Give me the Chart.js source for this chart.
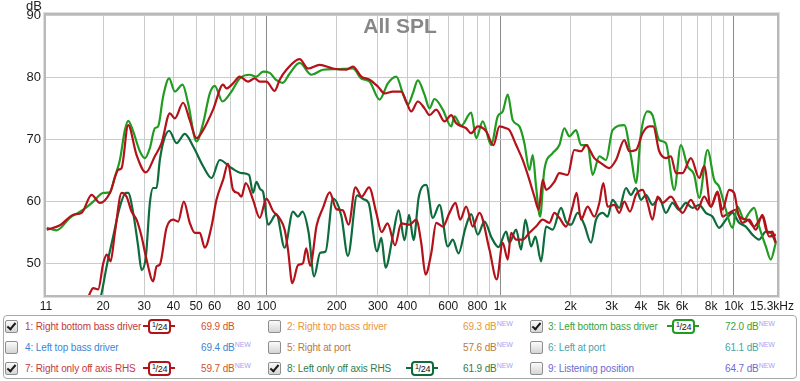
<!DOCTYPE html>
<html><head><meta charset="utf-8">
<script src="https://cdn.jsdelivr.net/npm/chart.js@4/dist/chart.umd.min.js"></script>
<style>
html,body{margin:0;padding:0;background:#fff;}
#wrap{position:relative;width:800px;height:381px;overflow:hidden;font-family:"Liberation Sans",Arial,sans-serif;}
#c{position:absolute;left:0;top:0;}
#legend{position:absolute;left:3px;top:315px;width:792px;height:62px;border:1px solid #a9a9a9;border-radius:4px;box-sizing:content-box;}
.cb{position:absolute;width:11px;height:11px;border:1px solid #8e8e8e;border-radius:2px;background:linear-gradient(#fbfbfb,#d4d4d4);}
.cb.on::after{content:"";position:absolute;left:3px;top:0px;width:3px;height:7px;border:solid #1a1a1a;border-width:0 2px 2px 0;transform:rotate(40deg);}
.lbl{position:absolute;font-size:10px;line-height:12px;white-space:nowrap;letter-spacing:-0.12px;}
.lbl sup{font-size:7px;color:#a3a3f2;vertical-align:4px;line-height:0;letter-spacing:0;}
.bdg{position:absolute;width:32px;height:15px;}
.bdg i{position:absolute;top:6px;width:6px;height:2px;background:var(--c);}
.bdg i.l{left:0;} .bdg i.r{left:26px;}
.bdg b{position:absolute;left:5px;top:0;width:19px;height:11px;border:2px solid var(--c);border-radius:4px;background:#fff;font-weight:normal;font-size:9px;line-height:13px;text-align:center;color:#111;letter-spacing:-0.3px;overflow:hidden;}
.bdg b small{font-size:7px;vertical-align:3px;line-height:0;}
</style>
</head>
<body>
<div id="wrap">
<canvas id="c" width="800" height="313"></canvas>
<div id="legend"></div>

<span class="cb on" style="left:5px;top:320px"></span>
<span class="lbl" style="left:25px;top:321px;color:#c43a3a">1: Right bottom bass driver</span>
<span class="bdg" style="left:143px;top:319px;--c:#b3121a"><i class="l"></i><b><small>1</small>/24</b><i class="r"></i></span>
<span class="lbl" style="left:201px;top:321px;color:#d5512f">69.9 dB</span>
<span class="cb" style="left:268px;top:320px"></span>
<span class="lbl" style="left:287px;top:321px;color:#e8963c">2: Right top bass driver</span>
<span class="lbl" style="left:463px;top:321px;color:#e8963c">69.3 dB<sup>NEW</sup></span>
<span class="cb on" style="left:530px;top:320px"></span>
<span class="lbl" style="left:548px;top:321px;color:#3aa33a">3: Left bottom bass driver</span>
<span class="bdg" style="left:667px;top:319px;--c:#219b21"><i class="l"></i><b><small>1</small>/24</b><i class="r"></i></span>
<span class="lbl" style="left:725px;top:321px;color:#3aa33a">72.0 dB<sup>NEW</sup></span>

<span class="cb" style="left:5px;top:341px"></span>
<span class="lbl" style="left:25px;top:342px;color:#3a86d4">4: Left top bass driver</span>
<span class="lbl" style="left:201px;top:342px;color:#3a86d4">69.4 dB<sup>NEW</sup></span>
<span class="cb" style="left:268px;top:341px"></span>
<span class="lbl" style="left:287px;top:342px;color:#b87a3e">5: Right at port</span>
<span class="lbl" style="left:463px;top:342px;color:#b87a3e">57.6 dB<sup>NEW</sup></span>
<span class="cb" style="left:530px;top:341px"></span>
<span class="lbl" style="left:548px;top:342px;color:#48a4a8">6: Left at port</span>
<span class="lbl" style="left:725px;top:342px;color:#48a4a8">61.1 dB<sup>NEW</sup></span>

<span class="cb on" style="left:5px;top:362px"></span>
<span class="lbl" style="left:25px;top:363px;color:#c43a3a">7: Right only off axis RHS</span>
<span class="bdg" style="left:143px;top:361px;--c:#b3121a"><i class="l"></i><b><small>1</small>/24</b><i class="r"></i></span>
<span class="lbl" style="left:201px;top:363px;color:#d5512f">59.7 dB<sup>NEW</sup></span>
<span class="cb on" style="left:268px;top:362px"></span>
<span class="lbl" style="left:287px;top:363px;color:#2f7d4e">8: Left only off axis RHS</span>
<span class="bdg" style="left:406px;top:361px;--c:#0e6b3c"><i class="l"></i><b><small>1</small>/24</b><i class="r"></i></span>
<span class="lbl" style="left:463px;top:363px;color:#2f7d4e">61.9 dB<sup>NEW</sup></span>
<span class="cb" style="left:530px;top:362px"></span>
<span class="lbl" style="left:548px;top:363px;color:#6b6bd2">9: Listening position</span>
<span class="lbl" style="left:725px;top:363px;color:#6b6bd2">64.7 dB<sup>NEW</sup></span>
</div>

<script>
// ---- data (frequency in Hz, level in dB) ----
const freqRB = [11.48,13.08,14.91,16.20,17.87,19.39,21.40,23.22,24.01,25.62,27.82,30.50,33.31,35.59,38.62,40.56,44.01,47.00,50.21,53.60,59.14,65.25,67.48,71.98,76.88,83.44,89.13,93.63,100,108.5,114.0,121.8,138.8,150.6,169.0,192.6,219.7,234.5,254.7,276.4,299.9,320.4,347.5,377.5,396.6,416.6,444.5,474.8,498.8,532.8,578.1,617.5,648.6,715.6,751.7,802.1,871.5,936.3,993,1061,1096,1171,1249,1334,1402,1462,1521,1573,1707,1792,1945,2077,2219,2331,2529,2701,2932,3132,3398,3570,3813,4069,4345,4519,4795,5121,5381,5651,6031,6550,7108,7468,7975,8509,8941,9548,10030,10535,11430,12213,13252,13918,14622,15117];
const splRB = [55.5,56.2,57.9,58.2,61.1,59.8,61.4,65.1,65.4,72.3,67.5,64.7,67.3,69.4,74.2,73.4,75.9,73.1,70.2,71.5,74.8,78.8,78.2,79.0,80.1,79.3,79.8,79.3,79.3,77.8,79.6,81.2,82.9,81.4,82.0,81.4,81.2,81.7,80.1,79.6,78.5,77.4,77.7,77.7,76.1,74.5,76.1,75.0,73.9,74.8,72.9,73.9,72.6,71.8,71.0,72.1,71.3,69.1,72.1,71.8,71.5,69.1,66.7,63.5,60.8,58.7,63.5,61.9,63.2,64.6,64.3,68.3,68.1,69.1,67.0,66.2,65.4,66.7,69.9,68.1,68.3,71.0,72.1,72.1,68.1,67.0,67.3,64.6,64.6,67.0,63.8,65.7,59.2,61.6,58.7,61.9,61.4,57.6,57.1,56.0,57.6,55.0,55.2,53.4];

const freqLB = [11.48,12.66,14.43,16.45,18.16,20.04,21.40,22.47,23.61,24.80,25.62,26.91,28.74,30.19,31.72,33.31,34.43,36.15,38.35,40.56,43.75,46.24,50.21,53.60,57.25,60.13,64.86,70.85,76.88,84.84,90.63,96.71,103.3,109.6,117.4,125.8,138.8,155.7,174.6,199.2,234.5,254.7,276.4,305.0,330.9,359.5,383.5,402.9,423.2,444.5,474.8,498.8,523.9,568.4,617.5,637.8,681.2,751.7,789.9,842.6,915.5,976.6,1026,1078,1132,1209,1270,1334,1379,1425,1482,1546,1678,1792,1883,1978,2112,2219,2368,2487,2657,2838,3028,3398,3629,3813,4006,4274,4488,4795,5121,5558,5935,6334,6766,7108,7714,8240,8654,9243,9863,10361,11066,11626,12213,12830,13704,14393,15117];
const splLB = [55.8,55.4,57.4,58.7,60.0,61.4,61.5,64.0,66.7,71.5,73.0,71.3,68.1,67.0,68.6,71.8,72.1,76.9,79.8,77.7,78.8,75.8,69.7,72.6,77.4,78.6,76.1,77.7,79.8,80.4,80.1,80.9,80.7,79.6,79.1,80.6,82.3,80.4,81.2,81.3,81.4,79.8,79.3,76.4,79.0,80.1,77.4,75.6,77.4,79.5,77.2,75.0,76.5,74.8,72.1,73.7,72.2,74.3,70.2,72.9,69.1,73.7,74.5,77.2,73.1,72.1,69.4,65.1,67.5,62.4,57.6,65.1,67.8,69.1,71.8,70.5,71.5,69.1,69.1,64.3,67.3,66.7,71.5,72.3,67.3,63.0,71.0,74.5,73.9,69.9,69.4,61.9,69.1,65.7,64.3,60.6,68.3,63.5,62.4,58.7,55.8,59.2,57.1,58.2,59.0,56.0,52.8,50.7,53.4];

const freqRO = [16.73,17.58,18.16,19.06,20.04,20.72,21.54,22.47,24.01,25.22,26.49,27.82,29.23,30.70,32.76,33.88,34.99,37.38,39.90,41.91,44.32,47.00,49.38,51.88,54.50,58.21,61.14,65.25,68.54,71.98,75.60,78.18,81.55,87.66,93.63,100,106.7,114.0,119.7,123.7,129.1,136.5,143.3,148.0,153.9,164.1,174.6,186.5,199.2,212.5,224.7,240.3,255.5,275.0,295.2,311.0,329.9,355.0,377.5,409.6,437.5,459.6,479.5,507.3,532.8,568.4,607.2,644.2,674.7,715.6,763.6,815.6,900.0,967.1,1026,1078,1114,1171,1249,1334,1425,1521,1624,1707,1792,1915,2043,2125,2219,2368,2529,2657,2764,2883,3080,3233,3398,3594,3813,4069,4274,4488,4715,4953,5381,5741,6031,6550,6989,7468,7975,8509,8941,9548,10197,10884,11626,12417,13252,14156,15117];
const splRO = [43.0,45.3,46.1,45.9,50.1,51.5,50.4,55.0,61.4,60.8,58.4,57.1,54.4,50.7,47.2,49.6,49.9,55.8,57.1,56.8,60.0,56.6,55.0,55.0,52.6,56.0,60.3,63.5,66.1,61.9,61.4,60.8,63.0,60.3,57.4,60.5,58.5,57.3,55.5,52.3,46.9,49.8,50.1,52.5,49.7,56.2,59.0,61.5,58.8,58.6,56.3,62.3,60.8,62.3,58.2,55.1,56.5,53.0,56.5,56.3,57.1,53.4,48.3,51.7,56.6,56.0,58.2,59.8,57.1,59.2,56.0,58.2,52.3,47.5,53.4,50.7,55.0,53.9,53.9,55.0,56.0,57.1,56.6,58.2,57.4,56.0,59.2,61.4,57.1,59.2,57.6,59.8,63.0,59.2,59.5,58.2,60.0,58.4,61.1,61.9,59.8,57.1,60.8,59.8,60.8,59.2,58.2,60.3,58.7,60.8,59.2,61.4,57.6,58.2,58.7,56.6,57.1,55.5,57.9,54.4,54.7];

const freqLO = [19.20,19.72,20.72,22.10,23.61,25.04,25.62,26.91,28.27,29.23,30.50,31.72,32.76,33.88,34.99,36.40,38.35,41.26,44.76,48.56,53.60,58.21,63.15,70.85,78.18,84.26,87.66,90.63,94.09,96.71,101.6,110.3,119.7,129.9,136.5,142.5,151.6,160.0,169.8,179.2,192.6,209.2,223.2,244.3,260.5,273.6,297.5,310.1,323.5,347.5,367.7,389.9,407.7,426.1,448.8,482.9,515.2,550.3,597.2,627.3,663.5,710.7,751.7,802.1,856.9,922.6,983.3,1061,1096,1171,1229,1283,1357,1416,1497,1573,1678,1823,1915,2011,2146,2292,2448,2572,2745,2883,3028,3233,3455,3629,3813,4006,4206,4488,4795,5121,5466,5836,6235,6655,7108,7592,8099,8654,9243,9863,10535,11253,12007,12830,13704,14393,15117];
const splLO = [43.5,45.3,49.6,54.4,59.2,61.4,61.4,58.2,52.8,49.0,51.2,59.8,62.2,62.2,66.7,69.9,71.4,69.4,70.9,68.9,65.7,63.8,66.7,65.4,64.6,64.3,61.4,63.2,62.0,61.6,56.3,58.0,52.6,58.4,57.6,58.4,55.0,48.0,51.8,52.0,60.5,57.7,51.3,61.0,60.4,59.8,52.0,54.2,49.4,54.5,58.6,53.8,57.9,53.8,60.8,62.7,57.4,59.5,52.8,53.9,51.7,55.8,58.0,54.7,56.8,54.1,52.7,55.2,53.4,55.5,52.3,57.1,52.8,54.4,50.4,56.0,55.5,59.0,56.8,56.3,58.2,56.3,53.4,57.1,58.2,57.6,60.3,59.0,62.2,61.1,62.2,60.3,61.1,59.5,60.6,58.2,59.8,58.7,59.8,59.0,59.5,58.2,57.6,55.8,57.1,58.2,56.6,56.0,54.7,53.9,55.2,55.0,53.4];

// ---- axes ----
const xMin = 11.4, xMax = 15300, yMin = 45, yMax = 90;
const xGridValues = [20,30,40,50,60,70,80,90,100,200,300,400,500,600,700,800,900,1000,2000,3000,4000,5000,6000,7000,8000,9000,10000];
const xDecades = [100,1000,10000];
const xLabelValues = [11.4,20,30,40,50,60,80,100,200,300,400,600,800,1000,2000,3000,4000,5000,6000,8000,10000,15300];
const xLabelTexts = ['11','20','30','40','50','60','80','100','200','300','400','600','800','1k','2k','3k','4k','5k','6k','8k','10k','15.3kHz   '];
const yTickValues = [50,60,70,80,90];

const FONT = '"Liberation Sans", Arial, sans-serif';
Chart.defaults.font.family = FONT;

const pts = (f, s) => f.slice(0, Math.min(f.length, s.length)).map((v, i) => ({x: v, y: s[i]}));

const decor = {
  id: 'decor',
  afterDatasetsDraw(chart) {
    const {ctx, chartArea: a} = chart;
    ctx.save();
    ctx.strokeStyle = '#dedede';
    ctx.lineWidth = 1;
    ctx.strokeRect(a.left - 2.5, a.top - 2.5, a.right - a.left + 5, a.bottom - a.top + 5);
    ctx.strokeStyle = '#b9b9b9';
    ctx.lineWidth = 2;
    ctx.strokeRect(a.left - 1, a.top - 1, a.right - a.left + 2, a.bottom - a.top + 2);
    ctx.restore();
  },
  afterDraw(chart) {
    const {ctx} = chart;
    ctx.save();
    ctx.fillStyle = '#878787';
    ctx.font = 'bold 21px ' + FONT;
    ctx.textAlign = 'center';
    ctx.textBaseline = 'alphabetic';
    ctx.fillText('All SPL', 400, 33);
    ctx.fillStyle = '#222';
    ctx.font = '13px ' + FONT;
    ctx.textAlign = 'right';
    ctx.fillText('dB', 42, 10);
    ctx.restore();
  }
};

new Chart(document.getElementById('c'), {
  type: 'line',
  data: {
    datasets: [
      {label: '1: Right bottom bass driver', data: pts(freqRB, splRB), borderColor: '#b3121a'},
      {label: '3: Left bottom bass driver', data: pts(freqLB, splLB), borderColor: '#219b21'},
      {label: '7: Right only off axis RHS', data: pts(freqRO, splRO), borderColor: '#b3121a'},
      {label: '8: Left only off axis RHS', data: pts(freqLO, splLO), borderColor: '#0e6b3c'}
    ]
  },
  options: {
    responsive: false,
    animation: false,
    devicePixelRatio: 1,
    layout: {padding: {top: 15, right: 23, left: 0, bottom: 0}},
    elements: {
      point: {radius: 0, hoverRadius: 0},
      line: {borderWidth: 2.2, cubicInterpolationMode: 'monotone', fill: false}
    },
    plugins: {legend: {display: false}, tooltip: {enabled: false}, title: {display: false}},
    scales: {
      x: {
        type: 'logarithmic',
        min: xMin, max: xMax, bounds: 'data',
        afterBuildTicks: s => {
          const all = [xMin, ...xGridValues, xMax];
          s.ticks = all.map(v => ({value: v}));
        },
        afterFit: s => { s.height = 18; s.paddingLeft = 0; s.paddingRight = 0; },
        ticks: {
          autoSkip: false, maxRotation: 0, minRotation: 0, padding: 4,
          color: '#1a1a1a', font: {size: 12},
          callback: v => {
            const i = xLabelValues.indexOf(v);
            return i >= 0 ? xLabelTexts[i] : '';
          }
        },
        grid: {
          drawTicks: false, lineWidth: 1,
          color: c => {
            const v = c.tick ? c.tick.value : 0;
            if (v === xMin || v === xMax) return 'rgba(0,0,0,0)';
            return xDecades.includes(v) ? '#8c8c8c' : '#cbcbcb';
          }
        },
        border: {display: false}
      },
      y: {
        min: yMin, max: yMax,
        afterBuildTicks: s => { s.ticks = yTickValues.map(v => ({value: v})); },
        afterFit: s => { s.width = 46; },
        ticks: {padding: 5, color: '#1a1a1a', font: {size: 13}},
        grid: {drawTicks: false, color: '#cbcbcb', lineWidth: 1},
        border: {display: false}
      }
    }
  },
  plugins: [decor]
});
</script>
</body></html>
